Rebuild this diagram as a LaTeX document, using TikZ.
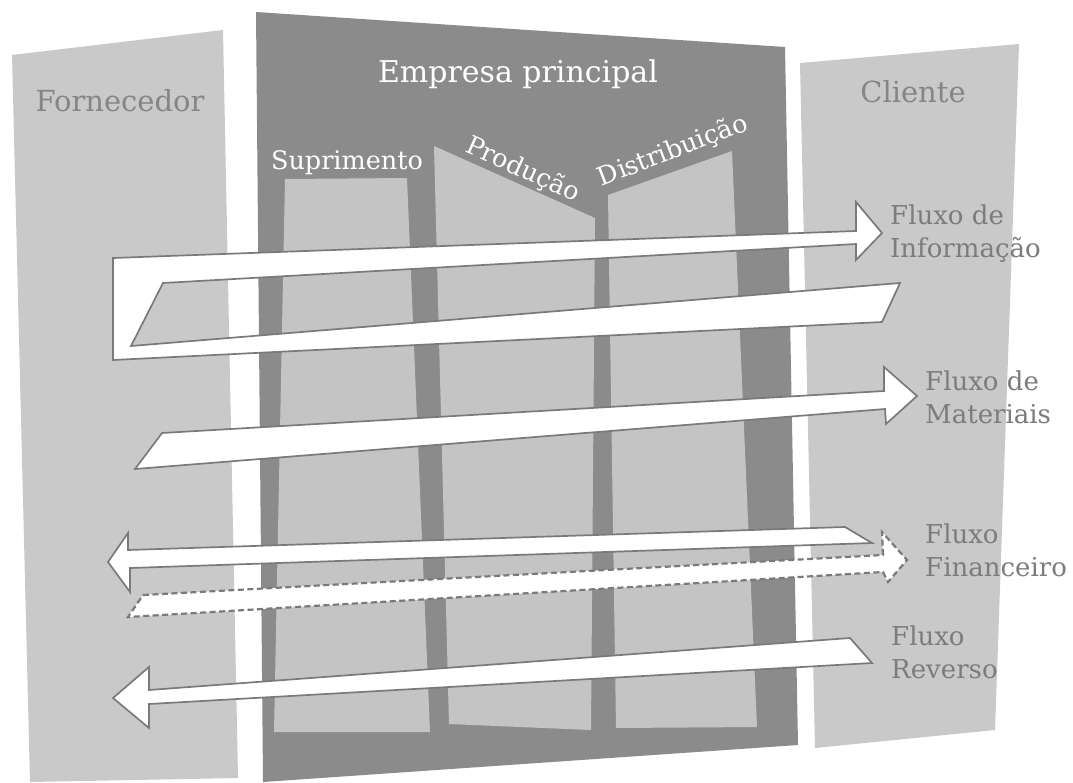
\documentclass[tikz,border=0pt]{standalone}
\usepackage{fontspec}
\setmainfont{DejaVu Serif}
\definecolor{sidegray}{HTML}{C9C9C9}
\definecolor{coregray}{HTML}{8B8B8B}
\definecolor{unitgray}{HTML}{C4C4C4}
\definecolor{rimgray}{HTML}{7A7A7A}
\definecolor{inkgray}{HTML}{858585}
\definecolor{flowink}{HTML}{7C7C7C}
\begin{document}
\begin{tikzpicture}[x=1pt,y=-1pt,
  sidepanel/.style={fill=sidegray,draw=none},
  corepanel/.style={fill=coregray,draw=none},
  unitpanel/.style={fill=unitgray,draw=none},
  flow/.style={fill=white,draw=rimgray,line width=1.7pt,line join=miter},
  dashflow/.style={fill=white,draw=rimgray,line width=2.2pt,dash pattern=on 6pt off 3.5pt},
  title/.style={font=\fontsize{29}{34}\selectfont,text=inkgray,inner sep=0pt},
  whitetitle/.style={font=\fontsize{30}{34}\selectfont,text=white,inner sep=0pt},
  unitlabel/.style={font=\fontsize{25.5}{28}\selectfont,text=white,inner sep=0pt},
  flowlabel/.style={font=\fontsize{26}{33}\selectfont,text=flowink,align=left,anchor=west,inner sep=0pt}]
\useasboundingbox (0,0) rectangle (1073,782);
\fill[white] (0,0) rectangle (1073,782);

% side panels and the central company block
\fill[sidepanel] (12,55) -- (223,30) -- (238,778) -- (30,782) -- cycle;
\fill[sidepanel] (800,63) -- (1019,44) -- (995,730) -- (815,748) -- cycle;
\fill[corepanel] (256,12) -- (785,47) -- (798,745) -- (263,782) -- cycle;

% the three internal units
\fill[unitpanel] (285,179) -- (407,178) -- (430,732) -- (274,732) -- cycle;
\fill[unitpanel] (434,146) -- (595,218) -- (591,730) -- (449,724) -- cycle;
\fill[unitpanel] (608,195) -- (732,151) -- (757,727) -- (616,728) -- cycle;

% titles
\node[title] (forn) at (120,101) {Fornecedor};
\node[whitetitle] (emp) at (518,74) {Empresa principal};
\node[title] (cli) at (913,92) {Cliente};
\node[unitlabel] (sup) at (347,163) {Suprimento};
\node[unitlabel,rotate=-24] (prod) at (523,170) {Produção};
\node[unitlabel,rotate=21] (dist) at (673,151) {Distribuição};

% information flow: out and back
\draw[flow] (113,258) -- (856,231) -- (856,202) -- (882,233) -- (856,260) -- (856,244)
  -- (163,283) -- (131,346) -- (900,283) -- (882,322) -- (113,360) -- cycle;

% material flow
\draw[flow] (162,433) -- (884,391) -- (884,367) -- (917,396) -- (886,424) -- (885,409)
  -- (135,469) -- cycle;

% financial flow, both ways
\draw[flow] (108,562) -- (128,533) -- (128,550) -- (845,527) -- (872,543) -- (130,568)
  -- (130,592) -- cycle;
\draw[dashflow] (143,595) -- (883,555) -- (882,532) -- (907,560) -- (888,582) -- (883,572)
  -- (128,617) -- cycle;

% reverse flow
\draw[flow] (113,698) -- (149,667) -- (149,690) -- (850,638) -- (872,663) -- (149,704)
  -- (149,728) -- cycle;

% flow labels
\node[flowlabel] (linfo) at (890,234) {Fluxo de\\Informação};
\node[flowlabel] (lmat) at (925,397) {Fluxo de\\Materiais};
\node[flowlabel] (lfin) at (925,550) {Fluxo\\Financeiro};
\node[flowlabel] (lrev) at (891,652) {Fluxo\\Reverso};
\end{tikzpicture}
\end{document}
